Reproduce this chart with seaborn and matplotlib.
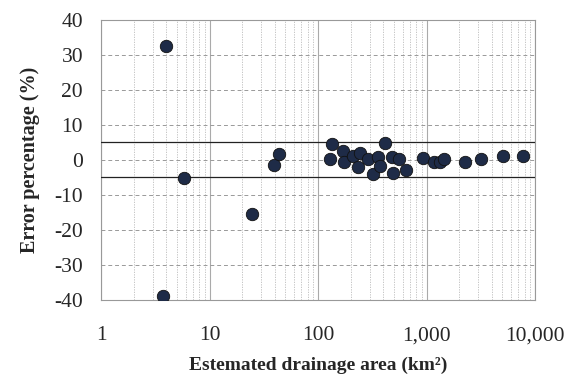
import numpy as np
import pandas as pd
import seaborn as sns
import matplotlib.pyplot as plt
from matplotlib.ticker import FixedLocator, LogLocator, NullFormatter, FuncFormatter

# estimated drainage area (km2) and error percentage (%)
area = [3.7, 4.0, 5.8, 24.5, 39, 44,
        129, 135, 171, 175, 211, 235, 244, 291, 324, 360, 373, 412,
        478, 495, 562, 647, 935, 1160, 1340, 1440, 2265, 3160, 5100, 7800]
error = [-38.9, 32.7, -5.2, -15.4, -1.5, 1.8,
         0.2, 4.5, 2.7, -0.7, 1.1, -1.9, 1.9, 0.2, -4.1, 0.9, -1.7, 4.8,
         0.9, -3.8, 0.2, -3.0, 0.6, -0.5, -0.6, 0.2, -0.5, 0.3, 1.2, 1.1]
limits = [5, -5]
x_ticks = [1, 10, 100, 1000, 10000]
y_ticks = list(range(-40, 41, 10))

df = pd.DataFrame({'area': area, 'error': error})

sns.set_style('white')
plt.rcParams['font.family'] = ['Liberation Serif', 'DejaVu Serif']
plt.rcParams['axes.unicode_minus'] = False

fig = plt.figure(figsize=(5.68, 3.85), dpi=100)
ax = fig.add_axes([0.178, 0.221, 0.764, 0.727])

sns.scatterplot(data=df, x='area', y='error', ax=ax, s=80,
                color='#1e2b47', edgecolor='#111111', linewidth=0.6, zorder=5)

ax.set_xscale('log')
ax.set_xlim(1, 10000)
ax.set_ylim(-40, 40)

ax.xaxis.set_major_locator(FixedLocator(x_ticks))
ax.xaxis.set_major_formatter(FuncFormatter(lambda v, p: f'{int(round(v)):,}'))
ax.xaxis.set_minor_locator(LogLocator(base=10, subs=np.arange(2, 10)))
ax.xaxis.set_minor_formatter(NullFormatter())
ax.set_yticks(y_ticks)

ax.grid(True, axis='y', which='major', color='#999999', linestyle=(0, (4, 3)), linewidth=0.7)
ax.grid(True, axis='x', which='major', color='#aaaaaa', linestyle='-', linewidth=0.8)
ax.grid(True, axis='x', which='minor', color='#bbbbbb', linestyle=(0, (1.5, 1.5)), linewidth=0.6)
ax.set_axisbelow(True)

for lim in limits:
    ax.axhline(lim, color='#222222', linewidth=0.9, zorder=3)

for side in ['left', 'bottom', 'right', 'top']:
    ax.spines[side].set_color('#999999')
    ax.spines[side].set_linewidth(0.8)

ax.tick_params(axis='both', which='major', direction='out', length=4, color='#999999',
               labelsize=15.5)
ax.tick_params(axis='y', which='major', pad=9)
ax.tick_params(axis='x', which='minor', length=0)
ax.tick_params(axis='x', which='major', pad=15)

ax.set_xlabel('Estemated drainage area (km²)', fontsize=14, fontweight='bold', labelpad=8)
ax.set_ylabel('Error percentage (%)', fontsize=14.5, fontweight='bold', labelpad=10)

fig.savefig('out.png', dpi=100)
